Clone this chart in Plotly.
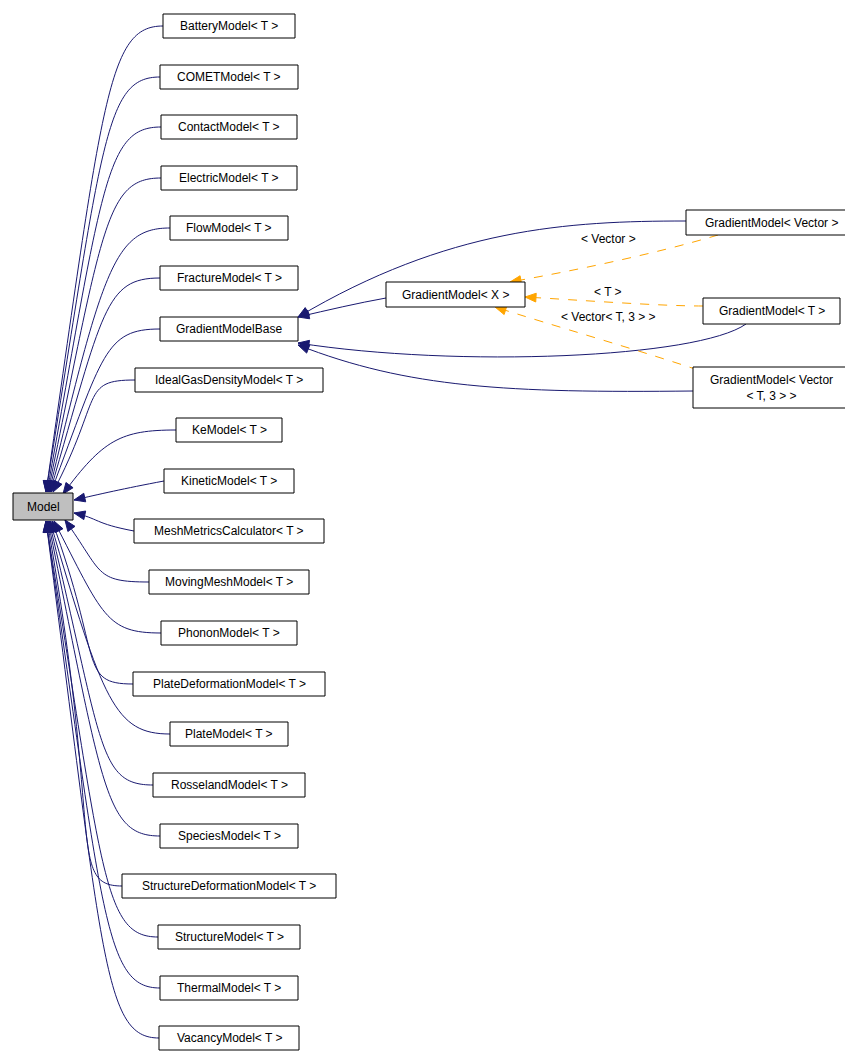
import plotly.graph_objects as go

W, H = 853, 1051
labels = ["BatteryModel< T >","COMETModel< T >","ContactModel< T >","ElectricModel< T >","FlowModel< T >",
          "FractureModel< T >","GradientModelBase","IdealGasDensityModel< T >","KeModel< T >","KineticModel< T >",
          "MeshMetricsCalculator< T >","MovingMeshModel< T >","PhononModel< T >","PlateDeformationModel< T >",
          "PlateModel< T >","RosselandModel< T >","SpeciesModel< T >","StructureDeformationModel< T >",
          "StructureModel< T >","ThermalModel< T >","VacancyModel< T >"]
lefts = [155,152,153,153,162,152,152,127,168,156,126,141,153,125,162,145,152,114,150,152,151]
rights = [287,290,289,289,280,290,290,315,274,286,316,301,289,317,280,297,290,328,292,290,291]
ycent = [18,69,119,170,220,270,321,372,422,473,523,574,625,676,726,777,828,878,929,980,1030]
# arrow end points on Model box
endx = [38,38,39,40,41,42,43,45,55,66,66,57,46,44,42,41,40,39,38,38,38]
endy = [484,484,484,484,484,484,484,484,486,492,505,512,513,513,513,513,513,513,513,513,513]

extra_boxes = [("Model",5,65,485,512,"#bfbfbf"),
               ("GradientModel< X >",378,517,274,299,"white"),
               ("GradientModel< Vector >",678,849,202,227,"white"),
               ("GradientModel< T >",695,832,290,316,"white"),
               ("GradientModel< Vector<br>< T, 3 > >",685,842,359,400,"white")]

NAVY = "#191970"
ORANGE = "#ffa500"
shapes, annots = [], []

def box(x0, x1, y0, y1, fill, text):
    shapes.append(dict(type="rect", x0=x0, x1=x1, y0=y0, y1=y1, line=dict(color="black", width=1), fillcolor=fill, layer="above"))
    annots.append(dict(x=(x0+x1)/2, y=(y0+y1)/2, text=text, showarrow=False, font=dict(size=12, color="black")))

def arrowhead(px, py, cx, cy, color, size=11):
    import math
    dx, dy = px-cx, py-cy
    L = math.hypot(dx, dy) or 1
    ux, uy = dx/L, dy/L
    bx, by = px-ux*size, py-uy*size
    nx, ny = -uy*size*0.4, ux*size*0.4
    shapes.append(dict(type="path", path=f"M {px},{py} L {bx+nx},{by+ny} L {bx-nx},{by-ny} Z",
                       fillcolor=color, line=dict(color=color, width=1), layer="above"))

def curve(x0, y0, c1x, c1y, c2x, c2y, x1, y1, color, dash="solid"):
    shapes.append(dict(type="path", path=f"M {x0},{y0} C {c1x},{c1y} {c2x},{c2y} {x1},{y1}",
                       line=dict(color=color, width=1, dash=dash)))
    arrowhead(x1, y1, c2x, c2y, color)

for lab, l, r, y, ex, ey in zip(labels, lefts, rights, ycent, endx, endy):
    if abs(y-498) < 60:
        curve(l, y, l-40, y+(498-y)*0.3, ex+25, ey+(y-ey)*0.3, ex, ey, NAVY)
    else:
        kx = 95 + (abs(y-498)/500)*0
        curve(l, y, l-55, y, kx, y+(ey-y)*0.15, ex, ey, NAVY)
    box(l, r, y-12, y+12, "white", lab)

# Gradient edges (navy)
curve(378, 290, 350, 295, 320, 302, 290, 309, NAVY)
curve(678, 213, 560, 213, 440, 220, 290, 309, NAVY)
curve(738, 316, 690, 350, 450, 360, 290, 335, NAVY)
curve(685, 383, 500, 385, 400, 380, 290, 337, NAVY)
# orange dashed template edges
curve(710, 227, 650, 245, 570, 262, 502, 274, ORANGE, "dash")
curve(695, 298, 650, 298, 570, 292, 517, 289, ORANGE, "dash")
curve(690, 362, 640, 345, 540, 316, 487, 299, ORANGE, "dash")
for t, x, y in [("< Vector >",600,231),("< T >",600,284),("< Vector< T, 3 > >",600,309)]:
    annots.append(dict(x=x, y=y, text=t, showarrow=False, font=dict(size=12, color="black")))

for t, x0, x1, y0, y1, fill in extra_boxes:
    box(x0, x1, y0, y1, fill, t)

fig = go.Figure()
fig.update_layout(width=W, height=H, margin=dict(l=0, r=0, t=0, b=0),
                  paper_bgcolor="white", plot_bgcolor="white",
                  font=dict(family="Liberation Sans, Arial, sans-serif"),
                  xaxis=dict(range=[0, W], visible=False, fixedrange=True),
                  yaxis=dict(range=[H, 0], visible=False, fixedrange=True),
                  shapes=shapes, annotations=annots, showlegend=False)
fig.write_html("out.html")
